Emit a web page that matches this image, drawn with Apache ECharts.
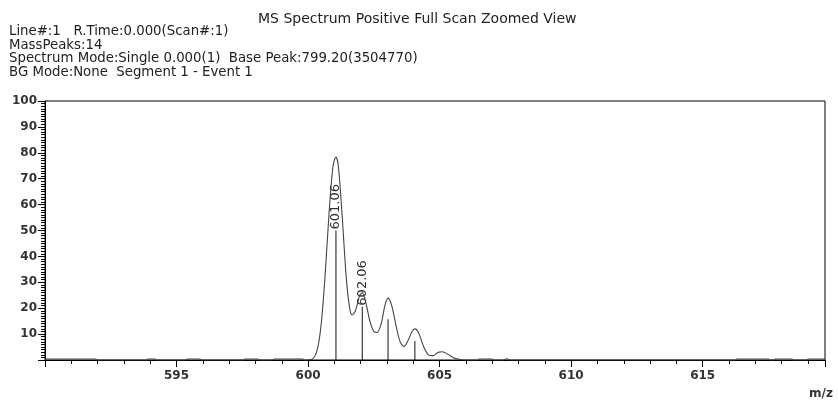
<!DOCTYPE html>
<html>
<head>
<meta charset="utf-8">
<style>
  html, body { margin: 0; padding: 0; background: #fff; }
  #chart { width: 838px; height: 403px; }
</style>
<script src="https://cdn.jsdelivr.net/npm/echarts@6/dist/echarts.min.js"></script>
</head>
<body>
<div id="chart"></div>
<script>
// Header lines above the plot
const headerLines = [
  'Line#:1   R.Time:0.000(Scan#:1)',
  'MassPeaks:14',
  'Spectrum Mode:Single 0.000(1)  Base Peak:799.20(3504770)',
  'BG Mode:None  Segment 1 - Event 1'
];
const chartTitle = 'MS Spectrum Positive Full Scan Zoomed View';
const xAxisName = 'm/z';

// Axis ranges and tick labels
const mzMin = 590;
const mzMax = 619.65;
const xTickLabels = [595, 600, 605, 610, 615];
const yTickLabels = [10, 20, 30, 40, 50, 60, 70, 80, 90, 100];

// Profile trace: m/z values and relative intensity (%)
const profileMz = [
  590.0, 590.1, 591.9, 592.0, 593.85, 593.9, 594.2, 594.25, 595.35, 595.4, 595.9, 595.95,
  597.55, 597.6, 598.1, 598.15, 598.65, 598.7, 599.8, 599.85,
  600.15, 600.35, 600.5, 600.65, 600.8, 600.95, 601.06, 601.15, 601.3, 601.45, 601.58, 601.68,
  601.8, 601.95, 602.06, 602.2, 602.35, 602.5, 602.62, 602.78, 602.92, 603.04, 603.18, 603.35,
  603.5, 603.65, 603.8, 603.95, 604.06, 604.2, 604.4, 604.6, 604.75, 604.95, 605.1, 605.3,
  605.55, 605.8, 606.1, 606.45, 606.5, 607.0, 607.05, 607.45, 607.5, 607.6, 607.65,
  616.25, 616.3, 617.5, 617.55, 617.7, 617.75, 618.4, 618.45, 618.95, 619.0, 619.65
];
const profileInt = [
  0.4, 0.4, 0.4, 0, 0, 0.4, 0.4, 0, 0, 0.4, 0.4, 0,
  0, 0.4, 0.4, 0, 0, 0.4, 0.4, 0,
  0.3, 4, 14, 33, 57, 75, 78.4, 75, 55, 32, 20, 17.4,
  19, 24.5, 26, 22, 15, 11, 10.6, 14, 21, 23.9, 21, 13,
  7, 5.2, 7.5, 11, 12, 10.5, 5, 1.8, 1.7, 3, 3.2, 2.3,
  0.8, 0.2, 0, 0, 0.4, 0.4, 0, 0, 0.4, 0.4, 0,
  0, 0.4, 0.4, 0, 0, 0.4, 0.4, 0, 0, 0.4, 0.4
];

// Centroid sticks: m/z, relative intensity (%), and printed label
const stickMz = [601.06, 602.06, 603.04, 604.06];
const stickInt = [50.0, 20.6, 15.7, 7.3];
const stickLabel = ['601.06', '602.06', '', ''];

const axisFont = 'DejaVu Sans, Verdana, sans-serif';

const chart = echarts.init(document.getElementById('chart'), null, { renderer: 'canvas' });

const headerTitles = headerLines.map((t, i) => ({
  text: t,
  left: 9,
  top: 25 + i * 13.5,
  padding: 0,
  textStyle: { fontFamily: axisFont, fontSize: 13.3, lineHeight: 14, fontWeight: 'normal', color: '#222' }
}));
headerTitles.push({
  text: chartTitle,
  left: 258,
  top: 12,
  padding: 0,
  textStyle: { fontFamily: axisFont, fontSize: 14, lineHeight: 15, fontWeight: 'normal', color: '#222' }
});
headerTitles.push({
  text: xAxisName,
  left: 809,
  top: 388,
  padding: 0,
  textStyle: { fontFamily: axisFont, fontSize: 12, fontWeight: 'bold', color: '#333' }
});

chart.setOption({
  animation: false,
  backgroundColor: '#fff',
  title: headerTitles,
  grid: {
    left: 45, right: 13, top: 101, bottom: 43,
    show: true, borderColor: '#000', borderWidth: 1, backgroundColor: 'transparent'
  },
  xAxis: {
    type: 'value',
    min: mzMin,
    max: mzMax,
    interval: 5,
    axisLine: { show: true, onZero: false, lineStyle: { color: '#000', width: 1 } },
    axisTick: { show: true, inside: false, length: 7, lineStyle: { color: '#000' } },
    minorTick: { show: true, splitNumber: 5, length: 4, lineStyle: { color: '#000' } },
    splitLine: { show: false },
    axisLabel: {
      showMinLabel: false,
      showMaxLabel: false,
      margin: 10,
      fontFamily: axisFont, fontSize: 12, fontWeight: 'bold', color: '#333',
      formatter: v => (xTickLabels.indexOf(v) >= 0 ? String(v) : '')
    }
  },
  yAxis: {
    type: 'value',
    min: 0,
    max: 100,
    interval: 10,
    axisLine: { show: true, lineStyle: { color: '#000', width: 1 } },
    axisTick: { show: true, inside: false, length: 7, lineStyle: { color: '#000' } },
    minorTick: { show: true, splitNumber: 10, length: 4, lineStyle: { color: '#000' } },
    splitLine: { show: false },
    axisLabel: {
      margin: 8,
      fontFamily: axisFont, fontSize: 12, fontWeight: 'bold', color: '#333',
      formatter: v => (yTickLabels.indexOf(v) >= 0 ? String(v) : '')
    }
  },
  series: [
    {
      name: 'profile',
      type: 'line',
      data: profileMz.map((m, i) => [m, profileInt[i]]),
      smooth: 0.3,
      symbol: 'none',
      lineStyle: { color: '#444', width: 1.1 },
      z: 2
    },
    {
      name: 'centroid',
      type: 'bar',
      data: stickMz.map((m, i) => [m, stickInt[i]]),
      barWidth: 1,
      itemStyle: { color: '#111' },
      label: {
        show: true,
        position: 'top',
        rotate: 90,
        align: 'left',
        verticalAlign: 'middle',
        distance: 1,
        fontFamily: axisFont,
        fontSize: 13,
        color: '#333',
        formatter: p => stickLabel[p.dataIndex]
      },
      z: 3
    }
  ]
});
</script>
</body>
</html>
